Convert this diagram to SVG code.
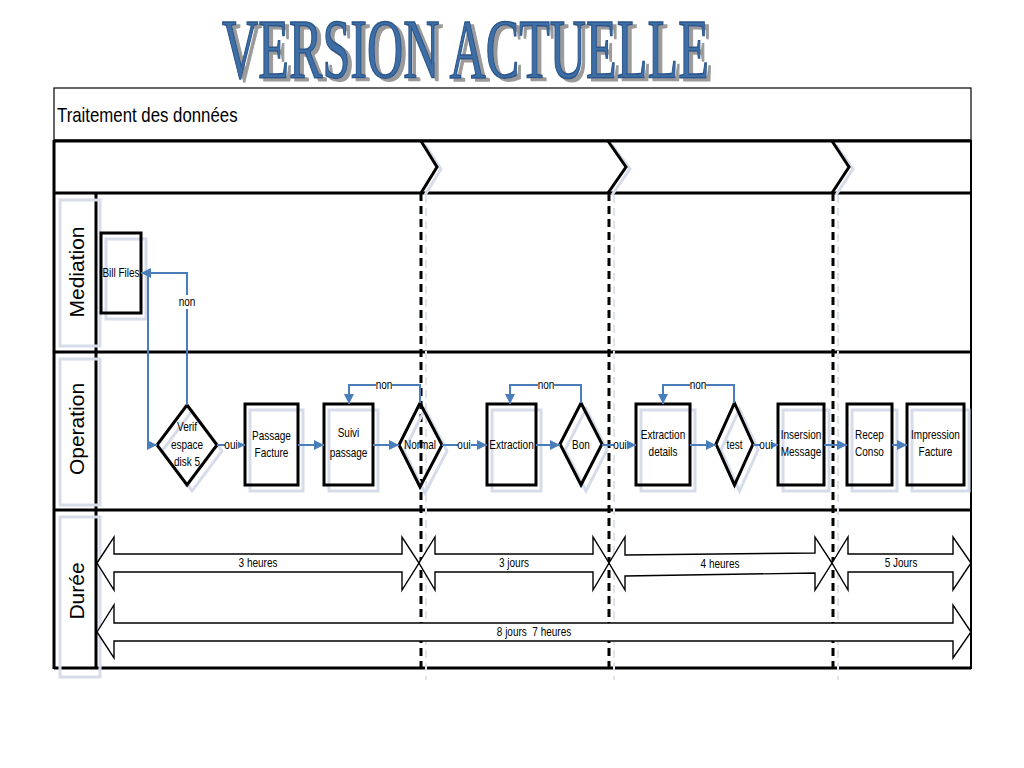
<svg xmlns="http://www.w3.org/2000/svg" width="1024" height="768" viewBox="0 0 1024 768">
<defs>
<style>
.t{font-family:"Liberation Sans",Arial,sans-serif;font-size:12.5px;text-anchor:middle;fill:#000}
.lane{font-family:"Liberation Sans",Arial,sans-serif;font-size:21px;text-anchor:middle;fill:#000}
.nd{fill:none;stroke:#000;stroke-width:3}
.sh{fill:none;stroke:#d6dcea;stroke-width:3}
.cn{fill:none;stroke:#4a7ebb;stroke-width:2;marker-end:url(#ah)}
.frame{fill:none;stroke:#000;stroke-width:3}
.dash{stroke:#000;stroke-width:3;stroke-dasharray:8 5}
.dashsh{stroke:#dfe4ee;stroke-width:2;stroke-dasharray:8 5}
.ar{fill:#fff;stroke:#000;stroke-width:1.4}
.bg{fill:#fff}
</style>
<marker id="ah" markerUnits="userSpaceOnUse" markerWidth="10" markerHeight="10" refX="10" refY="5" orient="auto">
<path d="M0,0 L10,5 L0,10 z" fill="#4a7ebb"/>
</marker>
<filter id="tsh" x="-5%" y="-30%" width="115%" height="170%">
<feFlood flood-color="#9a9a9a" result="c"/>
<feComposite in="c" in2="SourceAlpha" operator="in" result="s"/>
<feOffset in="s" dx="6" dy="3" result="o"/>
<feMerge><feMergeNode in="o"/><feMergeNode in="SourceGraphic"/></feMerge>
</filter>
</defs>
<rect width="1024" height="768" fill="#fff"/>

<g id="title">
<text transform="translate(222,78) scale(0.598,1)" font-family="'Liberation Serif',serif" font-size="84" fill="#3c6ea6" stroke="#2b5689" stroke-width="1.6" filter="url(#tsh)">VERSION ACTUELLE</text>
</g>

<g id="frame">
<rect x="54" y="88" width="917" height="52" fill="none" stroke="#000" stroke-width="1.2"/>
<text transform="translate(57,122) scale(0.82,1)" font-family="'Liberation Sans',Arial,sans-serif" font-size="20.5" fill="#000">Traitement des données</text>
<line x1="54" y1="141" x2="971" y2="141" class="frame"/>
<line x1="54" y1="193" x2="971" y2="193" class="frame"/>
<line x1="54" y1="352" x2="971" y2="352" class="frame"/>
<line x1="54" y1="510" x2="971" y2="510" class="frame"/>
<line x1="54" y1="668" x2="971" y2="668" class="frame"/>
<line x1="54" y1="140" x2="54" y2="669" class="frame"/>
<line x1="971" y1="140" x2="971" y2="669" stroke="#000" stroke-width="2"/>
<line x1="96" y1="193" x2="96" y2="668" class="frame"/>
<polyline points="425,145 441,169 425,195" class="sh" stroke-width="2"/>
<polyline points="612,145 630,169 612,195" class="sh" stroke-width="2"/>
<polyline points="836,145 853,169 836,195" class="sh" stroke-width="2"/>
<polyline points="421,141 437,167 421,193" class="frame"/>
<polyline points="608,141 626,167 608,193" class="frame"/>
<polyline points="832,141 849,167 832,193" class="frame"/>
<rect x="60" y="200" width="40" height="146" class="sh" stroke-width="2"/>
<rect x="60" y="359" width="40" height="146" class="sh" stroke-width="2"/>
<rect x="60" y="517" width="40" height="160" class="sh" stroke-width="2"/>
<text class="lane" transform="translate(84,272) rotate(-90)">Mediation</text>
<text class="lane" transform="translate(84,429) rotate(-90)">Operation</text>
<text class="lane" transform="translate(84,591) rotate(-90)">Durée</text>
<line x1="426" y1="195" x2="426" y2="680" class="dashsh"/>
<line x1="614" y1="195" x2="614" y2="680" class="dashsh"/>
<line x1="838" y1="195" x2="838" y2="680" class="dashsh"/>
<line x1="421" y1="193" x2="421" y2="668" class="dash"/>
<line x1="609" y1="193" x2="609" y2="668" class="dash"/>
<line x1="833" y1="193" x2="833" y2="668" class="dash"/>
</g>

<g id="bill-files">
<rect x="106" y="239" width="40" height="80" class="sh"/>
<rect x="101" y="233" width="40" height="80" class="nd"/>
<text transform="translate(121,277) scale(0.8,1)" class="t" font-size="12.5">Bill Files</text>
</g>
<g id="verif">
<polygon points="192,411 222,451 192,491 162,451" class="sh"/>
<polygon points="187,405 217,445 187,485 157,445" class="nd"/>
<text transform="translate(187,431) scale(0.8,1)" class="t"><tspan x="0" y="0">Verif</tspan><tspan x="0" y="18">espace</tspan><tspan x="0" y="35">disk 5</tspan></text>
</g>
<g id="passage-facture">
<rect x="250" y="410" width="53" height="81" class="sh"/>
<rect x="245" y="404" width="53" height="81" class="nd"/>
<text transform="translate(271.5,440) scale(0.8,1)" class="t"><tspan x="0" y="0">Passage</tspan><tspan x="0" y="17">Facture</tspan></text>
</g>
<g id="suivi-passage">
<rect x="329" y="410" width="49" height="81" class="sh"/>
<rect x="324" y="404" width="49" height="81" class="nd"/>
<text transform="translate(348.5,437) scale(0.8,1)" class="t"><tspan x="0" y="0">Suivi</tspan><tspan x="0" y="20">passage</tspan></text>
</g>
<g id="normal">
<polygon points="425,409 447,451 425,493 404,451" class="sh"/>
<polygon points="420,403 442,445 420,487 399,445" class="nd"/>
<text transform="translate(420,449) scale(0.8,1)" class="t">Normal</text>
</g>
<g id="extraction">
<rect x="492" y="410" width="49" height="81" class="sh"/>
<rect x="487" y="404" width="49" height="81" class="nd"/>
<text transform="translate(511.5,449) scale(0.8,1)" class="t">Extraction</text>
</g>
<g id="bon">
<polygon points="586,409 607,450 586,491 565,450" class="sh"/>
<polygon points="581,403 602,444 581,485 560,444" class="nd"/>
<text transform="translate(581,449) scale(0.8,1)" class="t">Bon</text>
</g>
<g id="extraction-details">
<rect x="641" y="410" width="54" height="81" class="sh"/>
<rect x="636" y="404" width="54" height="81" class="nd"/>
<text transform="translate(663,439) scale(0.8,1)" class="t"><tspan x="0" y="0">Extraction</tspan><tspan x="0" y="17">details</tspan></text>
</g>
<g id="test">
<polygon points="739.5,409 758,450 739.5,491 721,450" class="sh"/>
<polygon points="734.5,403 753,444 734.5,485 716,444" class="nd"/>
<text transform="translate(734.5,449) scale(0.8,1)" class="t">test</text>
</g>
<g id="insersion-message">
<rect x="783" y="410" width="46" height="81" class="sh"/>
<rect x="778" y="404" width="46" height="81" class="nd"/>
<text transform="translate(801,439) scale(0.8,1)" class="t"><tspan x="0" y="0">Insersion</tspan><tspan x="0" y="17">Message</tspan></text>
</g>
<g id="recep-conso">
<rect x="852" y="410" width="45" height="81" class="sh"/>
<rect x="847" y="404" width="45" height="81" class="nd"/>
<text transform="translate(869.5,439) scale(0.8,1)" class="t"><tspan x="0" y="0">Recep</tspan><tspan x="0" y="17">Conso</tspan></text>
</g>
<g id="impression-facture">
<rect x="912" y="410" width="57" height="81" class="sh"/>
<rect x="907" y="404" width="57" height="81" class="nd"/>
<text transform="translate(935.5,439) scale(0.8,1)" class="t"><tspan x="0" y="0">Impression</tspan><tspan x="0" y="17">Facture</tspan></text>
</g>

<g id="connectors">
<path d="M141,273 H148 V445 H157" class="cn"/>
<path d="M187,405 V273 H141" class="cn"/>
<rect x="179" y="295" width="16" height="14" class="bg"/>
<text transform="translate(187,306) scale(0.8,1)" class="t">non</text>
<path d="M217,445 H245" class="cn"/>
<rect x="225" y="438" width="13" height="14" class="bg"/>
<text transform="translate(231,449) scale(0.8,1)" class="t">oui</text>
<path d="M298,445 H324" class="cn"/>
<path d="M373,445 H399" class="cn"/>
<path d="M420,403 V385 H349 V404" class="cn"/>
<rect x="376" y="378" width="16" height="14" class="bg"/>
<text transform="translate(384,389) scale(0.8,1)" class="t">non</text>
<path d="M442,445 H487" class="cn"/>
<rect x="458" y="438" width="13" height="14" class="bg"/>
<text transform="translate(464,449) scale(0.8,1)" class="t">oui</text>
<path d="M536,445 H560" class="cn"/>
<path d="M581,403 V385 H510 V404" class="cn"/>
<rect x="538" y="378" width="16" height="14" class="bg"/>
<text transform="translate(546,389) scale(0.8,1)" class="t">non</text>
<path d="M602,445 H636" class="cn"/>
<rect x="614" y="438" width="13" height="14" class="bg"/>
<text transform="translate(620,449) scale(0.8,1)" class="t">oui</text>
<path d="M690,445 H716" class="cn"/>
<path d="M734,403 V385 H663 V404" class="cn"/>
<rect x="690" y="378" width="16" height="14" class="bg"/>
<text transform="translate(698,389) scale(0.8,1)" class="t">non</text>
<path d="M753,445 H778" class="cn"/>
<rect x="760" y="438" width="12" height="14" class="bg"/>
<text transform="translate(766,449) scale(0.8,1)" class="t">oui</text>
<path d="M824,445 H847" class="cn"/>
<path d="M892,445 H907" class="cn"/>
</g>

<g id="durations">
<polygon points="97,563 114,537 114,554 402,554 402,537 419,563 402,590 402,572 114,572 114,590" class="ar"/>
<text transform="translate(258,567) scale(0.8,1)" class="t">3 heures</text>
<polygon points="419,563 435,537 435,554 593,554 593,537 609,563 593,590 593,572 435,572 435,590" class="ar"/>
<text transform="translate(514,567) scale(0.8,1)" class="t">3 jours</text>
<polygon points="609,563 625,537 625,555 815,553 815,537 832,563 815,590 815,573 625,576 625,590" class="ar"/>
<text transform="translate(720,568) scale(0.8,1)" class="t">4 heures</text>
<polygon points="832,563 848,537 848,554 953,554 953,537 971,563 953,590 953,572 848,572 848,590" class="ar"/>
<text transform="translate(901,567) scale(0.8,1)" class="t">5 Jours</text>
<polygon points="97,632 114,605 114,623 953,623 953,605 971,632 953,658 953,641 114,641 114,658" class="ar"/>
<text transform="translate(534,636) scale(0.8,1)" class="t" xml:space="preserve">8 jours  7 heures</text>
</g>
</svg>
